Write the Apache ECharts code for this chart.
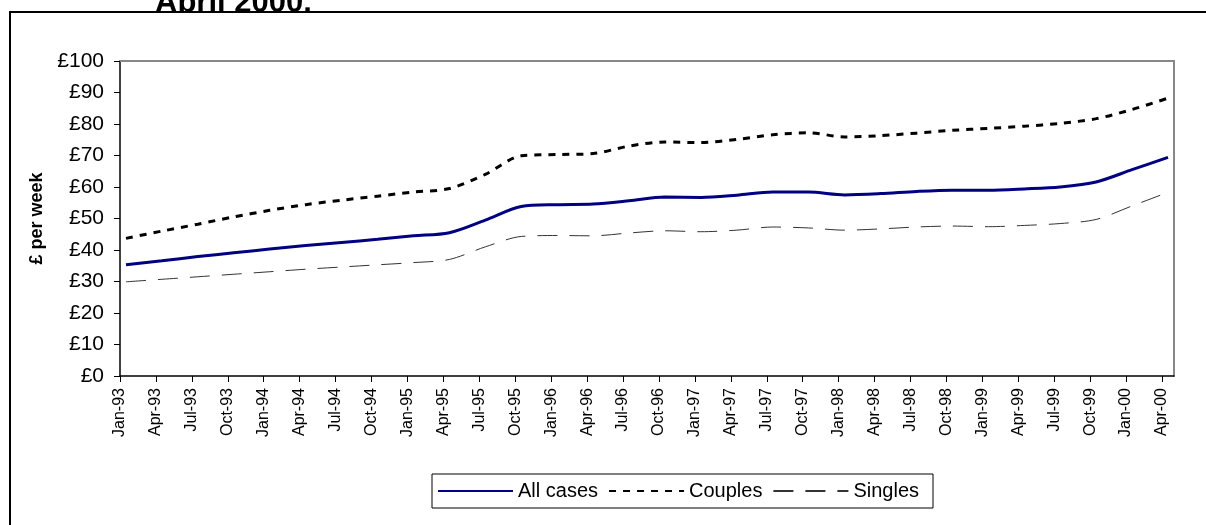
<!DOCTYPE html>
<html>
<head>
<meta charset="utf-8">
<script src="https://cdn.jsdelivr.net/npm/echarts@6/dist/echarts.min.js"></script>
<style>
  html, body { margin: 0; padding: 0; background: #fff; }
  #chart { width: 1206px; height: 525px; }
</style>
</head>
<body>
<div id="chart"></div>
<script>
// quarterly points, x axis counted in months from Jan-93
const quarterLabels = [
  'Jan-93', 'Apr-93', 'Jul-93', 'Oct-93', 'Jan-94', 'Apr-94', 'Jul-94', 'Oct-94',
  'Jan-95', 'Apr-95', 'Jul-95', 'Oct-95', 'Jan-96', 'Apr-96', 'Jul-96', 'Oct-96',
  'Jan-97', 'Apr-97', 'Jul-97', 'Oct-97', 'Jan-98', 'Apr-98', 'Jul-98', 'Oct-98',
  'Jan-99', 'Apr-99', 'Jul-99', 'Oct-99', 'Jan-00', 'Apr-00'
]
const allCases = [
  35.3, 36.6, 37.9, 39.1, 40.3, 41.4, 42.4, 43.4, 44.5, 45.5,
  49.5, 53.8, 54.4, 54.6, 55.6, 56.8, 56.7, 57.4, 58.4, 58.4,
  57.5, 57.9, 58.6, 59.0, 59.0, 59.4, 60.0, 61.6, 65.5, 69.4
]
const couples = [
  43.7, 46.0, 48.2, 50.5, 52.6, 54.4, 55.8, 57.1, 58.4, 59.5,
  64.0, 69.9, 70.3, 70.6, 73.0, 74.3, 74.1, 75.1, 76.6, 77.2,
  75.9, 76.3, 77.1, 78.0, 78.6, 79.3, 80.2, 81.7, 84.6, 88.2
]
const singles = [
  29.9, 30.7, 31.5, 32.3, 33.1, 33.9, 34.6, 35.3, 36.0, 37.0,
  41.0, 44.3, 44.6, 44.5, 45.4, 46.1, 45.8, 46.3, 47.3, 47.0,
  46.3, 46.7, 47.3, 47.6, 47.4, 47.8, 48.4, 49.7, 54.0, 58.3
]
const monthsPerPoint = 3
const pointOffset = 0.5   // points sit mid-month
const axisMaxMonth = 88

const tickMonths = quarterLabels.map((_, i) => i * monthsPerPoint)
const toPoints = values => values.map((v, i) => [i * monthsPerPoint + pointOffset, v])

const font = '"Liberation Sans", Arial, sans-serif'

const chart = echarts.init(document.getElementById('chart'))

chart.setOption({
  animation: false,
  backgroundColor: '#fff',
  graphic: [
    {
      type: 'text',
      z: 0,
      style: {
        text: 'April 2000.',
        x: 155,
        y: 19,
        verticalAlign: 'bottom',
        font: 'bold 31px ' + font,
        fill: '#000'
      }
    },
    {
      // chart frame, drawn over the title
      type: 'rect',
      z: 1,
      shape: { x: 10, y: 12, width: 1300, height: 600 },
      style: { fill: '#fff', stroke: '#000', lineWidth: 2 }
    }
  ],
  grid: { left: 120, top: 61, width: 1054, height: 315 },
  xAxis: [
    {
      type: 'value',
      min: 0,
      max: axisMaxMonth,
      z: 3,
      axisLine: { lineStyle: { color: '#000', width: 1.5 } },
      axisTick: { customValues: tickMonths, length: 6, lineStyle: { color: '#000' } },
      axisLabel: {
        customValues: tickMonths,
        rotate: 90,
        margin: 12,
        color: '#000',
        fontFamily: font,
        fontSize: 16,
        formatter: v => quarterLabels[Math.round(v / monthsPerPoint)] || ''
      },
      splitLine: { show: false }
    },
    {
      type: 'value',
      position: 'top',
      min: 0,
      max: axisMaxMonth,
      z: 3,
      axisLine: { onZero: false, lineStyle: { color: '#888', width: 2 } },
      axisTick: { show: false },
      axisLabel: { show: false },
      splitLine: { show: false }
    }
  ],
  yAxis: [
    {
      type: 'value',
      min: 0,
      max: 100,
      interval: 10,
      z: 3,
      name: '£ per week',
      nameLocation: 'middle',
      nameGap: 70,
      nameTextStyle: { color: '#000', fontFamily: font, fontSize: 18, fontWeight: 'bold' },
      axisLine: { show: true, lineStyle: { color: '#000', width: 1.5 } },
      axisTick: { show: true, length: 6, lineStyle: { color: '#000' } },
      axisLabel: {
        color: '#000',
        fontFamily: font,
        fontSize: 21,
        margin: 16,
        formatter: v => '£' + v
      },
      splitLine: { show: false }
    },
    {
      type: 'value',
      position: 'right',
      min: 0,
      max: 100,
      z: 3,
      axisLine: { show: true, onZero: false, lineStyle: { color: '#888', width: 2 } },
      axisTick: { show: false },
      axisLabel: { show: false },
      splitLine: { show: false }
    }
  ],
  legend: {
    left: 432,
    top: 474,
    padding: [7, 14, 7, 5],
    itemGap: 10,
    itemWidth: 75,
    itemHeight: 14,
    borderColor: '#000',
    borderWidth: 1,
    itemStyle: { opacity: 0 },
    textStyle: { color: '#000', fontFamily: font, fontSize: 20 },
    data: ['All cases', 'Couples', 'Singles']
  },
  series: [
    {
      name: 'All cases',
      type: 'line',
      smooth: 0.3,
      symbol: 'none',
      lineStyle: { color: '#000080', width: 3 },
      itemStyle: { color: '#000080' },
      data: toPoints(allCases)
    },
    {
      name: 'Couples',
      type: 'line',
      smooth: 0.3,
      symbol: 'none',
      lineStyle: { color: '#000', width: 3, type: [7, 7] },
      itemStyle: { color: '#000' },
      data: toPoints(couples)
    },
    {
      name: 'Singles',
      type: 'line',
      smooth: 0.3,
      symbol: 'none',
      lineStyle: { color: '#333', width: 1, type: [20, 12] },
      itemStyle: { color: '#333' },
      data: toPoints(singles)
    }
  ]
})

window.addEventListener('resize', () => chart.resize())
</script>
</body>
</html>
